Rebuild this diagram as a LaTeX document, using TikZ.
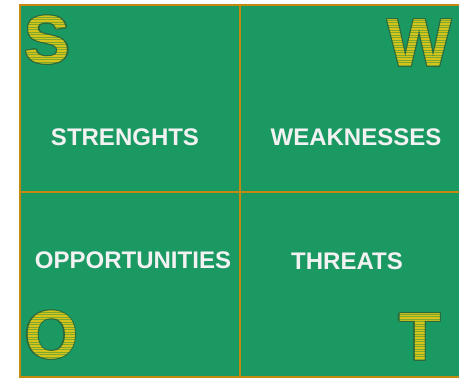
\documentclass[tikz,border=0pt]{standalone}
\usepackage{fontspec}
\setmainfont{Liberation Sans}
\usetikzlibrary{calc}

\definecolor{swotgreen}{HTML}{1B9963}
\definecolor{swotgold}{HTML}{C48A0F}
\definecolor{lettergold}{HTML}{D6C41A}
\definecolor{letterolive}{HTML}{7FA82E}
\definecolor{letterrim}{HTML}{2C6A3C}

\tikzset{
  bigletter/.style={inner sep=0pt, font=\fontsize{68}{68}\selectfont\bfseries},
  fieldlabel/.style={inner sep=0pt, text=white!95!black, font=\fontsize{24}{24}\selectfont\bfseries},
  divider/.style={swotgold, line width=2pt}
}

% big striped letter: name, position, letter
\newcommand{\swotletter}[3]{%
  \foreach \dx/\dy in {-1.3/0,1.3/0,0/-1.3,0/1.3,-0.9/-0.9,0.9/0.9,-0.9/0.9,0.9/-0.9} {
    \node[bigletter, text=letterrim] at ($(#2)+(\dx,\dy)$) {#3};
  }
  \node[bigletter, text=letterolive] (#1) at (#2) {#3};
  \begin{scope}
    \clip foreach \k in {0,...,24} {($(#2)+(-40,-30+2.5*\k)$) rectangle ($(#2)+(40,-28.8+2.5*\k)$)};
    \node[bigletter, text=lettergold] at (#2) {#3};
  \end{scope}
}

\begin{document}
\begin{tikzpicture}[x=1pt, y=-1pt]
  \useasboundingbox (0,0) rectangle (459,379);

  % Board corners
  \coordinate (tl) at (20,5);
  \coordinate (br) at (463,377.5);
  \coordinate (topmid) at (240,5);
  \coordinate (botmid) at (240,377.5);
  \coordinate (leftmid) at (20,192);
  \coordinate (rightmid) at (463,192);

  % Green field
  \fill[swotgreen] (tl) rectangle (br);

  % Four quadrant letters
  \swotletter{s}{47.5,40}{S}
  \swotletter{w}{419.5,43}{W}
  \swotletter{o}{51.5,335}{O}
  \swotletter{t}{420,337}{T}

  % Quadrant labels
  \node[fieldlabel] (strengths) at (125,137) {STRENGHTS};
  \node[fieldlabel] (weaknesses) at (356,137) {WEAKNESSES};
  \node[fieldlabel] (opportunities) at (133,260) {OPPORTUNITIES};
  \node[fieldlabel] (threats) at (347,261) {THREATS};

  % Border and dividers
  \draw[divider] (tl) rectangle (br);
  \draw[divider] (topmid) -- (botmid);
  \draw[divider] (leftmid) -- (rightmid);
\end{tikzpicture}
\end{document}
